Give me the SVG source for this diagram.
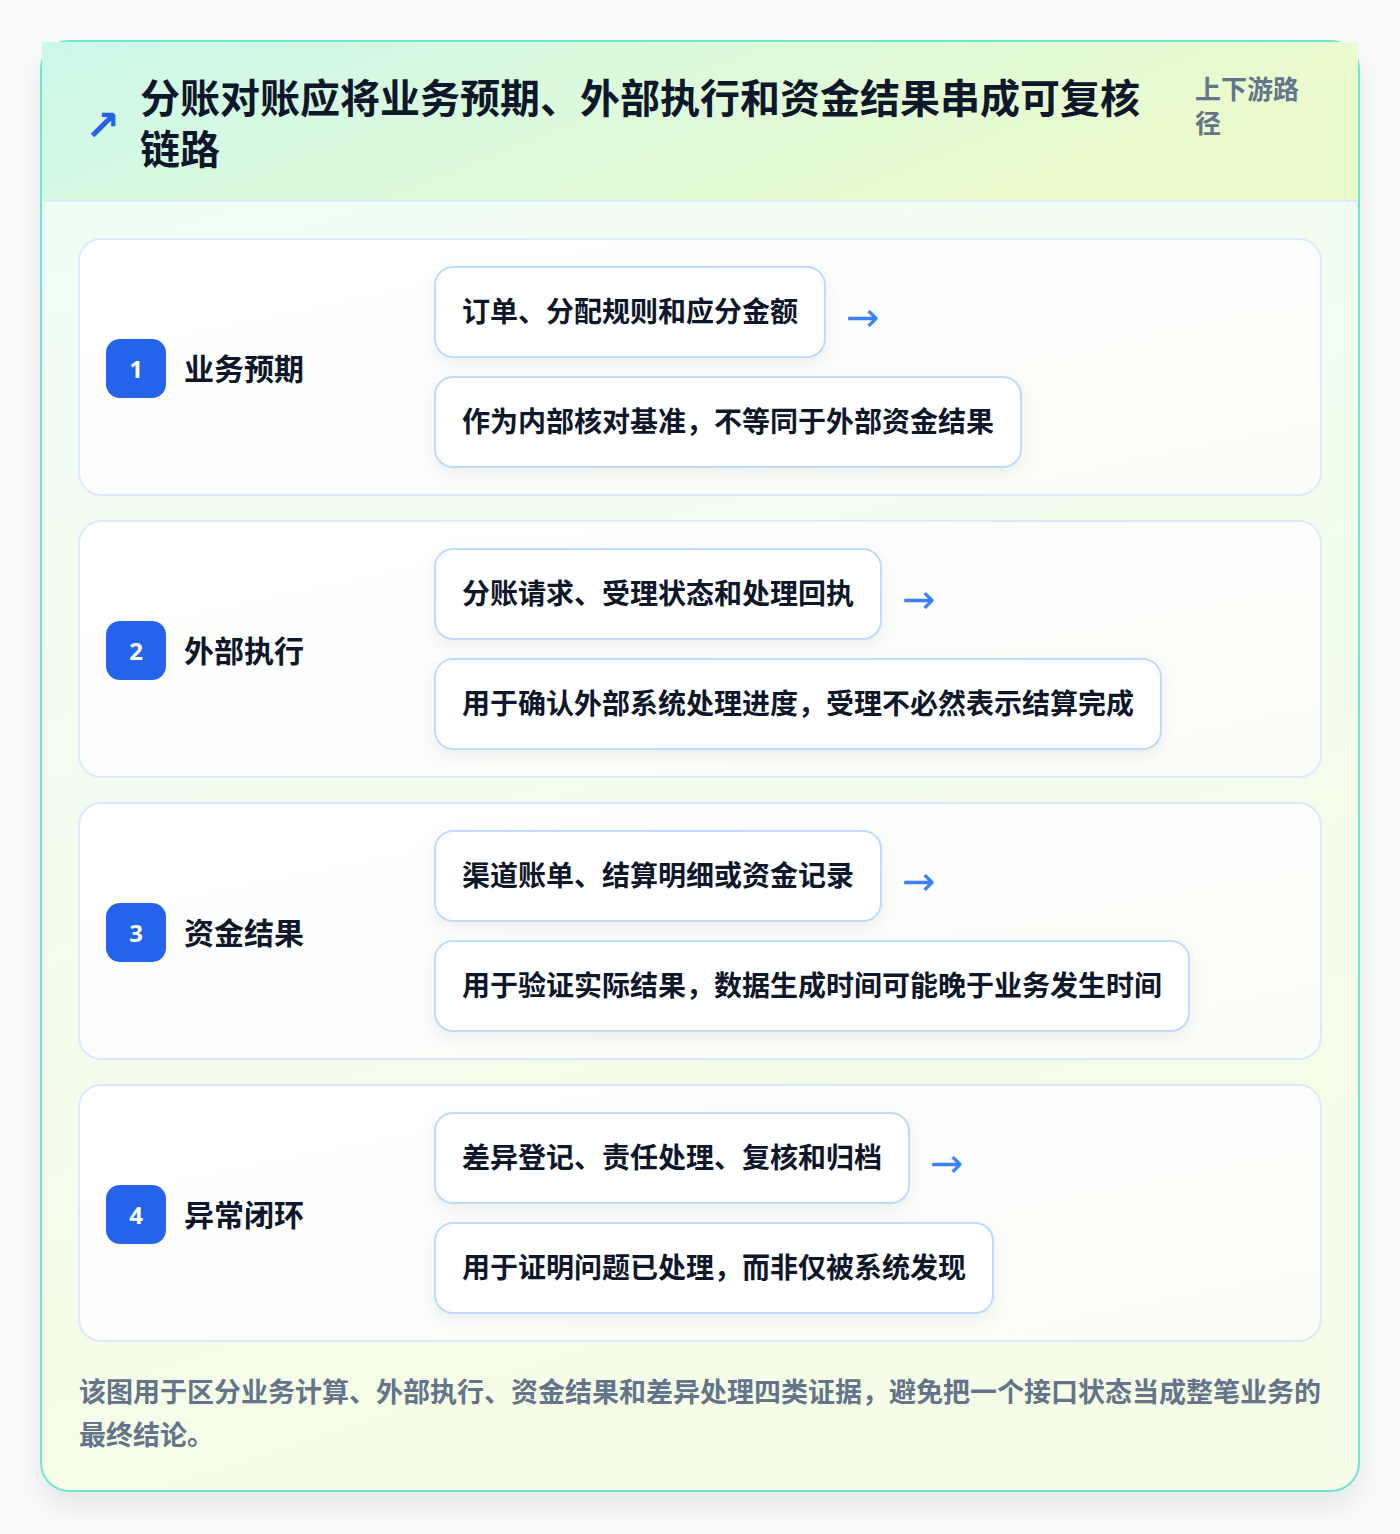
<svg xmlns="http://www.w3.org/2000/svg" width="1400" height="1534" viewBox="0 0 1400 1534">
<defs>
<linearGradient id="hdr" x1="0" y1="0" x2="1" y2="0.3">
<stop offset="0" stop-color="#ccf8ea"/>
<stop offset="1" stop-color="#ecfbcc"/>
</linearGradient>
<linearGradient id="body" x1="0" y1="0" x2="0.3" y2="1">
<stop offset="0" stop-color="#effdf7"/>
<stop offset="1" stop-color="#f6fde6"/>
</linearGradient>
<linearGradient id="row" x1="0" y1="0" x2="1" y2="1">
<stop offset="0" stop-color="#ffffff"/>
<stop offset="1" stop-color="#fafdf8"/>
</linearGradient>
<filter id="cardShadow" x="-10%" y="-10%" width="120%" height="120%">
<feDropShadow dx="0" dy="14" stdDeviation="14" flood-color="#0f172a" flood-opacity="0.08"/>
</filter>
<filter id="pillShadow" x="-20%" y="-30%" width="140%" height="170%">
<feDropShadow dx="0" dy="6" stdDeviation="8" flood-color="#0f172a" flood-opacity="0.06"/>
</filter>
</defs>
<style>
.t{font-family:"Noto Sans CJK SC","Noto Sans",sans-serif;font-weight:700}
.title{font-size:40px;fill:#0f172a}
.sub{font-size:26px;fill:#64748b}
.lbl{font-size:30px;fill:#0f172a}
.pt{font-size:28px;fill:#0f172a}
.num{font-size:24px;fill:#ffffff;font-family:"Noto Sans","Liberation Sans",sans-serif;font-weight:700}
.foot{font-size:27px;fill:#64748b}
.rowbox{fill:url(#row);stroke:#dbeafe;stroke-width:2}
.pill{fill:#ffffff;stroke:#bfdbfe;stroke-width:2;filter:url(#pillShadow)}
.badge{fill:#2563eb}
.arr{font-family:"DejaVu Sans","Noto Sans",sans-serif;font-size:40px;fill:#3b82f6}
</style>
<rect width="1400" height="1534" fill="#f9fafb"/>
<g id="card">
<rect x="41" y="41" width="1318" height="1450" rx="28" fill="url(#body)" stroke="#6ee7cf" stroke-width="2" filter="url(#cardShadow)"/>
<rect x="42" y="42" width="1316" height="159" fill="url(#hdr)"/>
<line x1="42" y1="201" x2="1358" y2="201" stroke="#dbeafe" stroke-width="2"/>
</g>
<g id="header">
<text x="85" y="140" style="font-size:42px;fill:#2563eb;font-family:'DejaVu Sans',sans-serif;font-weight:700">↗</text>
<text class="t title" x="140" y="113">分账对账应将业务预期、外部执行和资金结果串成可复核</text>
<text class="t title" x="140" y="164">链路</text>
<text class="t sub" x="1195" y="99">上下游路</text>
<text class="t sub" x="1195" y="133">径</text>
</g>
<g id="row1">
<rect class="rowbox" x="79" y="239" width="1242" height="256" rx="22"/>
<rect class="badge" x="106" y="339" width="60" height="59" rx="14"/>
<text class="num" x="136" y="378" text-anchor="middle">1</text>
<text class="t lbl" x="184" y="380">业务预期</text>
<rect class="pill" x="435" y="267" width="390" height="90" rx="18"/>
<text class="t pt" x="462" y="322">订单、分配规则和应分金额</text>
<rect class="pill" x="435" y="377" width="586" height="90" rx="18"/>
<text class="t pt" x="462" y="432">作为内部核对基准，不等同于外部资金结果</text>
</g>
<g id="row2">
<rect class="rowbox" x="79" y="521" width="1242" height="256" rx="22"/>
<rect class="badge" x="106" y="621" width="60" height="59" rx="14"/>
<text class="num" x="136" y="660" text-anchor="middle">2</text>
<text class="t lbl" x="184" y="662">外部执行</text>
<rect class="pill" x="435" y="549" width="446" height="90" rx="18"/>
<text class="t pt" x="462" y="604">分账请求、受理状态和处理回执</text>
<rect class="pill" x="435" y="659" width="726" height="90" rx="18"/>
<text class="t pt" x="462" y="714">用于确认外部系统处理进度，受理不必然表示结算完成</text>
</g>
<g id="row3">
<rect class="rowbox" x="79" y="803" width="1242" height="256" rx="22"/>
<rect class="badge" x="106" y="903" width="60" height="59" rx="14"/>
<text class="num" x="136" y="942" text-anchor="middle">3</text>
<text class="t lbl" x="184" y="944">资金结果</text>
<rect class="pill" x="435" y="831" width="446" height="90" rx="18"/>
<text class="t pt" x="462" y="886">渠道账单、结算明细或资金记录</text>
<rect class="pill" x="435" y="941" width="754" height="90" rx="18"/>
<text class="t pt" x="462" y="996">用于验证实际结果，数据生成时间可能晚于业务发生时间</text>
</g>
<g id="row4">
<rect class="rowbox" x="79" y="1085" width="1242" height="256" rx="22"/>
<rect class="badge" x="106" y="1185" width="60" height="59" rx="14"/>
<text class="num" x="136" y="1224" text-anchor="middle">4</text>
<text class="t lbl" x="184" y="1226">异常闭环</text>
<rect class="pill" x="435" y="1113" width="474" height="90" rx="18"/>
<text class="t pt" x="462" y="1168">差异登记、责任处理、复核和归档</text>
<rect class="pill" x="435" y="1223" width="558" height="90" rx="18"/>
<text class="t pt" x="462" y="1278">用于证明问题已处理，而非仅被系统发现</text>
</g>
<g id="connectors">
<text class="arr" x="846" y="331">→</text>
<text class="arr" x="902" y="613">→</text>
<text class="arr" x="902" y="895">→</text>
<text class="arr" x="930" y="1177">→</text>
</g>
<g id="footer">
<text class="t foot" x="79" y="1402">该图用于区分业务计算、外部执行、资金结果和差异处理四类证据，避免把一个接口状态当成整笔业务的</text>
<text class="t foot" x="79" y="1445">最终结论。</text>
</g>
</svg>
